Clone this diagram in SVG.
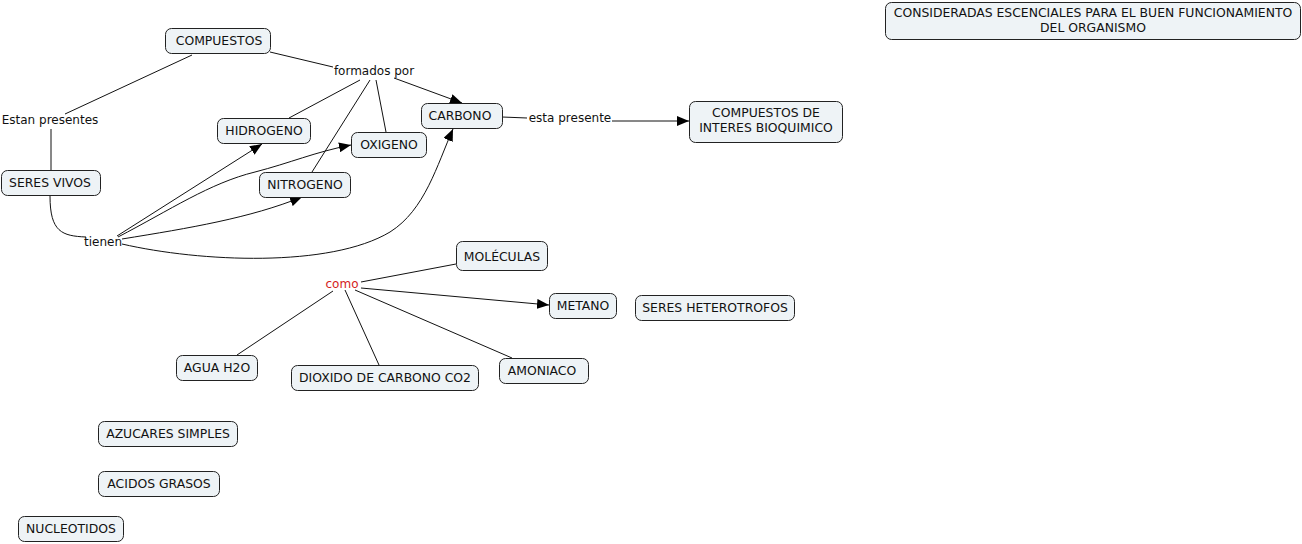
<svg xmlns="http://www.w3.org/2000/svg" width="1302" height="544" viewBox="0 0 1302 544">
<defs>
<style>
.n rect{fill:#eef3f6;stroke:#222;stroke-width:1}
text{font-family:"DejaVu Sans",Verdana,sans-serif;font-size:12.4px;fill:#111;text-anchor:middle}
.l text{font-size:12px}
.red{fill:#d41c1c}
.c path,.c line{fill:none;stroke:#111;stroke-width:1}
</style>
<marker id="a" viewBox="0 0 12 10" refX="12" refY="5" markerWidth="12" markerHeight="10" markerUnits="userSpaceOnUse" orient="auto"><path d="M0,0L12,5L0,10z" fill="#000"/></marker>
</defs>
<rect width="1302" height="544" fill="#fff"/>
<g class="c">
<line x1="270" y1="52" x2="333" y2="67"/>
<line x1="394" y1="78" x2="462" y2="103" marker-end="url(#a)"/>
<line x1="360" y1="80" x2="289" y2="118"/>
<line x1="370" y1="80" x2="312" y2="172"/>
<line x1="376" y1="80" x2="386" y2="132"/>
<line x1="192" y1="55" x2="65" y2="114"/>
<line x1="51" y1="129" x2="51" y2="170"/>
<path d="M50,196 C50,232 62,236 86,237"/>
<line x1="117" y1="236" x2="262" y2="144" marker-end="url(#a)"/>
<path d="M118,237 C170,210 210,183 255,172 C290,163 315,152 351,145" marker-end="url(#a)"/>
<path d="M122,239 C190,228 250,218 302,197" marker-end="url(#a)"/>
<path d="M122,244 C200,262 330,268 390,232 C425,210 437,165 453,129" marker-end="url(#a)"/>
<line x1="502" y1="117" x2="527" y2="118"/>
<line x1="612" y1="121" x2="689" y2="121" marker-end="url(#a)"/>
<line x1="361" y1="282" x2="456" y2="264"/>
<line x1="361" y1="288" x2="549" y2="305" marker-end="url(#a)"/>
<line x1="355" y1="290" x2="512" y2="358"/>
<line x1="345" y1="290" x2="379" y2="365"/>
<line x1="333" y1="291" x2="237" y2="355"/>
</g>
<g id="lbl-formados" class="l"><text x="374" y="75">formados por</text></g>
<g id="lbl-estan" class="l"><text x="50" y="124">Estan presentes</text></g>
<g id="lbl-tienen" class="l"><text x="103" y="246">tienen</text></g>
<g id="lbl-esta" class="l"><text x="570" y="122">esta presente</text></g>
<g id="lbl-como" class="l"><text class="red" x="342" y="288">como</text></g>
<g id="compuestos" class="n"><rect x="165.5" y="28.5" width="105" height="25" rx="6"/><text x="219" y="45">COMPUESTOS</text></g>
<g id="hidrogeno" class="n"><rect x="217.5" y="118.5" width="93" height="25" rx="6"/><text x="264" y="135">HIDROGENO</text></g>
<g id="oxigeno" class="n"><rect x="351.5" y="132.5" width="75" height="25" rx="6"/><text x="389" y="149">OXIGENO</text></g>
<g id="carbono" class="n"><rect x="421.5" y="103.5" width="81" height="25" rx="6"/><text x="460" y="120">CARBONO</text></g>
<g id="interes" class="n"><rect x="689.5" y="101.5" width="153" height="41" rx="6"/><text x="766" y="117">COMPUESTOS DE</text><text x="766" y="132">INTERES BIOQUIMICO</text></g>
<g id="seresvivos" class="n"><rect x="1.5" y="170.5" width="99" height="25" rx="6"/><text x="50" y="187">SERES VIVOS</text></g>
<g id="nitrogeno" class="n"><rect x="259.5" y="172.5" width="91" height="25" rx="6"/><text x="305" y="189">NITROGENO</text></g>
<g id="moleculas" class="n"><rect x="456.5" y="241.5" width="91" height="29" rx="6"/><text x="502" y="261">MOLÉCULAS</text></g>
<g id="metano" class="n"><rect x="549.5" y="293.5" width="67" height="25" rx="6"/><text x="583" y="310">METANO</text></g>
<g id="heterotrofos" class="n"><rect x="635.5" y="295.5" width="159" height="25" rx="6"/><text x="715" y="312">SERES HETEROTROFOS</text></g>
<g id="agua" class="n"><rect x="176.5" y="355.5" width="81" height="25" rx="6"/><text x="217" y="372">AGUA H2O</text></g>
<g id="dioxido" class="n"><rect x="291.5" y="365.5" width="187" height="25" rx="6"/><text x="385" y="382">DIOXIDO DE CARBONO CO2</text></g>
<g id="amoniaco" class="n"><rect x="499.5" y="358.5" width="89" height="25" rx="6"/><text x="542" y="375">AMONIACO</text></g>
<g id="azucares" class="n"><rect x="98.5" y="421.5" width="139" height="25" rx="6"/><text x="168" y="438">AZUCARES SIMPLES</text></g>
<g id="acidos" class="n"><rect x="98.5" y="471.5" width="121" height="25" rx="6"/><text x="159" y="488">ACIDOS GRASOS</text></g>
<g id="nucleotidos" class="n"><rect x="18.5" y="516.5" width="105" height="25" rx="6"/><text x="71" y="533">NUCLEOTIDOS</text></g>
<g id="consideradas" class="n"><rect x="885.5" y="2.5" width="415" height="37" rx="6"/><text x="1093" y="17">CONSIDERADAS ESCENCIALES PARA EL BUEN FUNCIONAMIENTO</text><text x="1093" y="32">DEL ORGANISMO</text></g>
</svg>
